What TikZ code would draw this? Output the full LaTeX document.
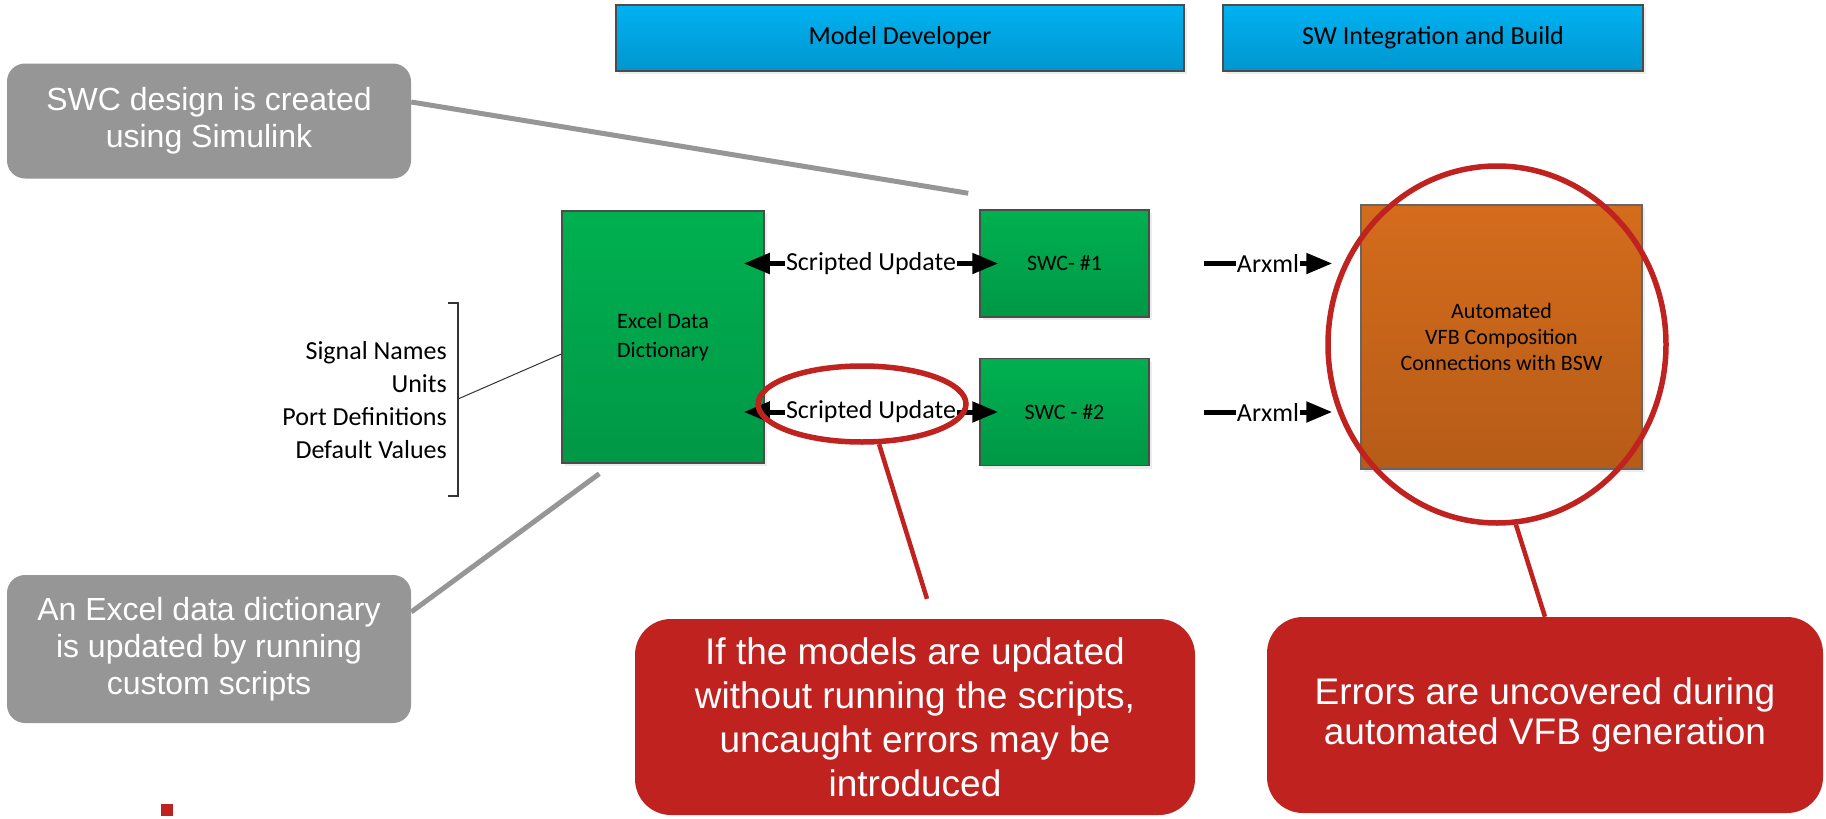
\documentclass[tikz,border=0pt]{standalone}
\usepackage{fontspec}
\setmainfont{Carlito}
\newfontfamily\notefont{Liberation Sans}
\usetikzlibrary{arrows.meta,positioning,shapes.geometric,shadows}

\definecolor{laneblue}{RGB}{0,178,240}
\definecolor{laneblued}{RGB}{0,150,208}
\definecolor{swgreen}{RGB}{0,176,80}
\definecolor{swgreend}{RGB}{0,152,70}
\definecolor{vfbor}{RGB}{212,108,28}
\definecolor{vfbord}{RGB}{182,92,24}
\definecolor{errred}{RGB}{192,34,32}
\definecolor{notegray}{RGB}{150,150,150}

\def\dred{\draw[errred,line width=4.5pt]}
\def\dgray{\draw[notegray,line width=5pt]}

\tikzset{
  shadebox/.style={draw=black!70, line width=1.5pt, inner sep=0pt, align=center,
    drop shadow={shadow xshift=3pt, shadow yshift=-3pt, opacity=.15}},
  lane/.style={shadebox, top color=laneblue, bottom color=laneblued,
    minimum height=66pt, font=\fontsize{26}{30}\selectfont},
  swc/.style={shadebox, top color=swgreen, bottom color=swgreend,
    font=\fontsize{22}{29}\selectfont},
  note/.style={fill=notegray, text=white, rounded corners=18pt, align=center,
    inner sep=0pt, minimum width=404pt, font=\notefont\fontsize{32}{37}\selectfont},
  errnote/.style={fill=errred, text=white, rounded corners=36pt, align=center,
    inner sep=0pt, font=\notefont\fontsize{37}{44}\selectfont},
  ring/.style={ellipse, draw=errred, line width=5.5pt, inner sep=0pt},
  updarrow/.style={line width=5pt,
    {Triangle[length=26pt,width=20pt]}-{Triangle[length=26pt,width=20pt]}},
  xmlarrow/.style={line width=5pt, -{Triangle[length=26pt,width=20pt]}},
  arrlabel/.style={fill=white, inner sep=1pt, font=\fontsize{26}{30}\selectfont},
}

\begin{document}
\begin{tikzpicture}[x=1pt,y=-1pt]
  \useasboundingbox (0,0) rectangle (1826,819);

  % swim lane headers
  \node[lane, minimum width=568pt] (modeldev) at (900,38) {Model Developer};
  \node[lane, minimum width=420pt] (swint) at (1433,38) {SW Integration and Build};

  % data dictionary and the two components
  \node[swc, minimum width=202pt, minimum height=252pt] (dict) at (663,337) {Excel Data\\Dictionary};
  \node[swc, minimum width=169pt, minimum height=107pt] (swcA) at (1064.5,263.5) {SWC- \#1};
  \node[swc, minimum width=169pt, minimum height=107pt, below=40pt of swcA] (swcB) {SWC - \#2};
  \node[shadebox, top color=vfbor, bottom color=vfbord, draw=black!60,
        minimum width=281pt, minimum height=264pt, font=\fontsize{22}{26}\selectfont]
        (vfb) at (1501.5,337) {Automated\\VFB Composition\\Connections with BSW};

  % dictionary contents
  \node[anchor=east, align=right, inner sep=0pt, font=\fontsize{26}{33}\selectfont]
        (fields) at (447,400) {Signal Names\\Units\\Port Definitions\\Default Values};
  \draw[black!80, line width=1.5pt] (448,303) -- (458,303) -- (458,496) -- (448,496);
  \coordinate (brk) at (458,399);
  \draw[black!80, line width=1pt] (brk) -- ([yshift=-17pt]dict.west);

  % data flow
  \draw[updarrow] ([xshift=-21pt]dict.east |- swcA.west) -- ([xshift=19pt]swcA.west)
        node[arrlabel, midway] {Scripted Update};
  \draw[updarrow] ([xshift=-21pt]dict.east |- swcB.west) -- ([xshift=19pt]swcB.west)
        node[arrlabel, midway] {Scripted Update};
  \draw[xmlarrow] ([xshift=54pt]swcA.east) -- ([xshift=-28pt]vfb.west |- swcA.east)
        node[arrlabel, midway] {Arxml};
  \draw[xmlarrow] ([xshift=54pt]swcB.east) -- ([xshift=-28pt]vfb.west |- swcB.east)
        node[arrlabel, midway] {Arxml};

  % grey remarks
  \node[note, minimum height=115pt] (simnote) at (209,121) {SWC design is created\\using Simulink};
  \node[note, minimum height=148pt] (ddnote) at (209,649)
        {An Excel data dictionary\\is updated by running\\custom scripts};
  \dgray ([yshift=19pt]simnote.east) -- ([xshift=-11pt,yshift=16pt]swcA.north west);
  \dgray ([xshift=38pt,yshift=-10pt]dict.south west) -- ([yshift=37pt]ddnote.east);

  % red remarks
  \node[ring, minimum width=208pt, minimum height=76pt] (smallring) at (862,404) {};
  \node[ring, minimum width=338pt, minimum height=357pt] (bigring) at (1497,344.5) {};
  \node[errnote, minimum width=560pt, minimum height=196pt] (errA) at (915,717)
        {If the models are updated\\without running the scripts,\\uncaught errors may be\\introduced};
  \node[errnote, minimum width=556pt, minimum height=196pt, font=\notefont\fontsize{37}{40}\selectfont]
        (errB) at (1545,715) {Errors are uncovered during\\automated VFB generation};
  \dred (smallring.-67) -- ([xshift=12pt,yshift=20pt]errA.north);
  \dred (bigring.-84) -- (errB.north);

  \fill[errred] (161,804) rectangle (173,816);
\end{tikzpicture}
\end{document}
